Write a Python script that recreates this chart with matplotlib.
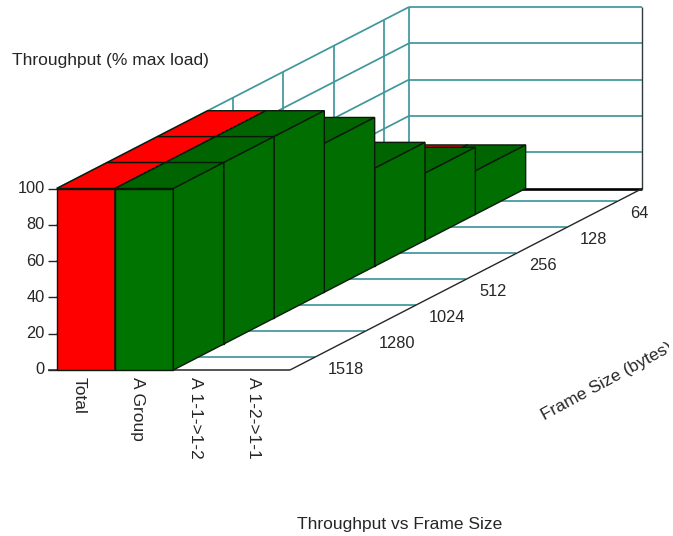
import matplotlib
matplotlib.use("Agg")
import matplotlib.pyplot as plt
from matplotlib.patches import Polygon
from matplotlib.transforms import Bbox

plt.rcParams['font.family'] = ['Liberation Sans', 'DejaVu Sans']

# ---- data ----
frame_sizes = ['1518', '1280', '1024', '512', '256', '128', '64']   # front to back
categories = ['Total', 'A Group', 'A 1-1->1-2', 'A 1-2->1-1']
total = [100, 100, 100, 82, 54, 37, 24]
a_group = [100, 100, 100, 82, 54, 37, 24]
a_1_1 = [0, 0, 0, 0, 0, 0, 0]
a_1_2 = [0, 0, 0, 0, 0, 0, 0]
series = [total, a_group, a_1_1, a_1_2]
z_ticks = [0, 20, 40, 60, 80, 100]
y_label = 'Throughput (% max load)'
depth_label = 'Frame Size (bytes)'
title = 'Throughput vs Frame Size'

# ---- oblique projection (figure pixels) ----
W, H = 673, 536
X0, Y0 = 56.7, 370.0
CW = (290.0 - X0) / len(categories)
DX, DY = 352.3 / len(frame_sizes), -181.5 / len(frame_sizes)
ZS = 1.815


def P(c, r, v=0):
    return (X0 + c * CW + r * DX, Y0 + r * DY - v * ZS)


TEAL = '#3f979b'
INK = '#262626'
EDGE = '#0a1a0a'
nc, nr = len(categories), len(frame_sizes)

fig = plt.figure(figsize=(W / 100, H / 100), dpi=100, facecolor='white')
ax = fig.add_axes([0, 0, 1, 1])
ax.set_xlim(0, W)
ax.set_ylim(H, 0)
ax.set_axis_off()


def line(a, b, color=TEAL, lw=1.25, z=1):
    ax.plot([a[0], b[0]], [a[1], b[1]], color=color, lw=lw, zorder=z,
            solid_capstyle='butt')


# walls: horizontal gridlines
for v in z_ticks:
    line(P(0, 0, v), P(0, nr, v))
    if v > 0:
        line(P(0, nr, v), P(nc, nr, v))
# left-wall verticals and floor lines at each row centre
for r in range(nr):
    line(P(0, r + .5, 0), P(0, r + .5, 100))
    line(P(0, r + .5, 0), P(nc, r + .5, 0))
line(P(0, nr, 0), P(0, nr, 100))
line(P(nc, nr, 0), P(nc, nr, 100), color='#2e3a3c', lw=1.0)
line(P(0, nr, 0), P(nc, nr, 0), color='black', lw=1.9, z=1.5)

# floor outline and axis ticks
line((P(0, 0, 0)[0] - 9, Y0), P(nc, 0, 0), color=INK, lw=1.1, z=1.6)
line(P(nc, 0, 0), P(nc, nr, 0), color=INK, lw=1.0, z=1.6)
for v in z_ticks:
    x, y = P(0, 0, v)
    line((x - 9, y), (x, y), color=INK, lw=1.0)
    ax.text(x - 12, y, str(v), ha='right', va='center', fontsize=11.8, color=INK)

# bars, painted back to front then left to right
faces = {0: ('#fe0000', '#fe0000', '#d00000'), 1: ('#007400', '#006400', '#006e00')}
z = 2.0
for r in range(nr - 1, -1, -1):
    for c in range(nc):
        v = series[c][r]
        if v <= 0:
            continue
        front, top, side = faces[c]
        polys = [
            ([P(c, r, 0), P(c + 1, r, 0), P(c + 1, r, v), P(c, r, v)], front),
            ([P(c, r, v), P(c + 1, r, v), P(c + 1, r + 1, v), P(c, r + 1, v)], top),
            ([P(c + 1, r, 0), P(c + 1, r + 1, 0), P(c + 1, r + 1, v), P(c + 1, r, v)], side),
        ]
        for pts, col in polys:
            ax.add_patch(Polygon(pts, closed=True, facecolor=col, edgecolor=EDGE,
                                 lw=1.0, joinstyle='miter', zorder=z))
            z += 0.001

# category labels
for c, name in enumerate(categories):
    x, _ = P(c + .5, 0, 0)
    ax.text(x - 7, Y0 + 7, name, rotation=270, ha='center', va='top',
            fontsize=12.5, color=INK)

# depth labels
for r, name in enumerate(frame_sizes):
    x, y = P(nc, r + .5, 0)
    ax.text(x + 13, y + 12, name, ha='left', va='center', fontsize=11.8, color=INK)

ax.text(12, 61, y_label, ha='left', va='center', fontsize=12.5, color=INK)
ax.text(400, 524, title, ha='center', va='center', fontsize=12.5, color=INK)
dl = ax.text(545, 420, depth_label, rotation=28.5, rotation_mode='anchor', ha='left',
             va='baseline', fontsize=12.5, color=INK)
dl.set_clip_on(True)
dl.set_clip_box(Bbox([[0, 0], [669, H]]))

fig.savefig('out.png', dpi=100, facecolor='white')
